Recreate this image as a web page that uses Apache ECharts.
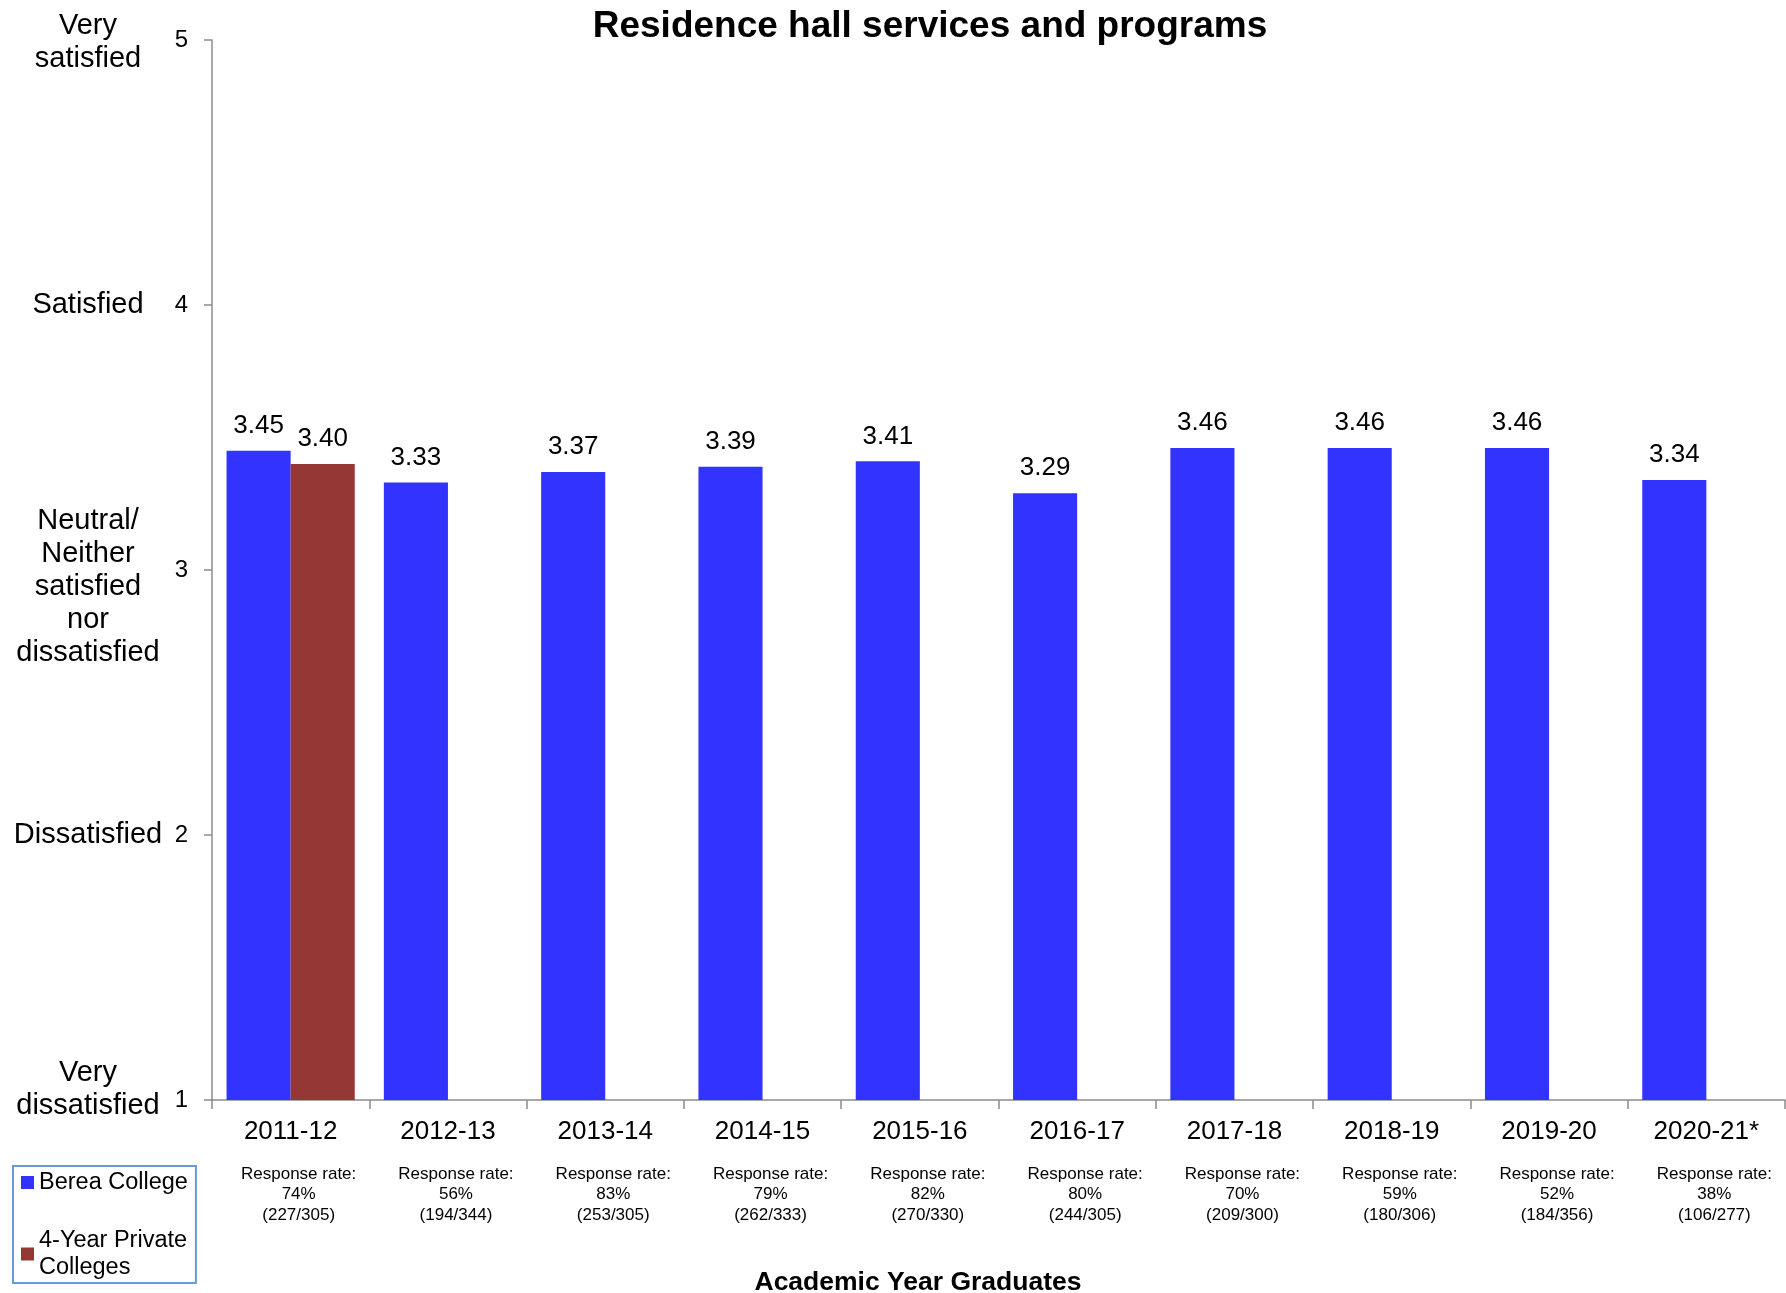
<!DOCTYPE html>
<html>
<head>
<meta charset="utf-8">
<script src="https://cdn.jsdelivr.net/npm/echarts@6/dist/echarts.min.js"></script>
<style>
html,body{margin:0;padding:0;background:#fff;}
#chart{width:1786px;height:1293px;}
</style>
</head>
<body>
<div id="chart"></div>
<script>
const categories = ['2011-12','2012-13','2013-14','2014-15','2015-16','2016-17','2017-18','2018-19','2019-20','2020-21*'];
const bereaValues = [3.45,3.33,3.37,3.39,3.41,3.29,3.46,3.46,3.46,3.34];
const privateValues = [3.40,null,null,null,null,null,null,null,null,null];
const responseRates = ['74%','56%','83%','79%','82%','80%','70%','59%','52%','38%'];
const responseCounts = ['(227/305)','(194/344)','(253/305)','(262/333)','(270/330)','(244/305)','(209/300)','(180/306)','(184/356)','(106/277)'];
const scaleTicks = [1,2,3,4,5];
const scaleLabels = ['Very\ndissatisfied','Dissatisfied','Neutral/\nNeither\nsatisfied\nnor\ndissatisfied','Satisfied','Very\nsatisfied'];
const seriesNames = ['Berea College','4-Year Private Colleges'];

const FONT = "'Liberation Sans', Arial, sans-serif";
const AXIS_GRAY = '#8c8c8c';

const chart = echarts.init(document.getElementById('chart'));
chart.setOption({
  animation: false,
  backgroundColor: '#ffffff',
  textStyle: {fontFamily: FONT, color: '#000'},
  title: [
    {text: 'Residence hall services and programs', left: 930, top: 8, padding: 0, textAlign: 'center',
     textStyle: {fontFamily: FONT, fontSize: 37, fontWeight: 'bold', color: '#000'}},
    {text: 'Academic Year Graduates', left: 918, top: 1269, padding: 0, textAlign: 'center',
     textStyle: {fontFamily: FONT, fontSize: 26.5, fontWeight: 'bold', color: '#000'}}
  ],
  legend: {
    orient: 'vertical', left: 13, bottom: 10,
    data: seriesNames,
    itemWidth: 13, itemHeight: 13, itemGap: 31,
    padding: [3, 8, 2, 8],
    borderColor: '#6b9bd6', borderWidth: 2, borderRadius: 0,
    icon: 'rect',
    formatter: function (n) { return n === '4-Year Private Colleges' ? '4-Year Private\nColleges' : n; },
    textStyle: {fontFamily: FONT, fontSize: 23.5, lineHeight: 27, color: '#000'}
  },
  grid: {left: 212, right: 1, top: 40, bottom: 193, containLabel: false},
  xAxis: [
    {
      type: 'category', data: categories, position: 'bottom',
      axisLine: {show: true, lineStyle: {color: AXIS_GRAY, width: 1.5}},
      axisTick: {show: true, length: 9, lineStyle: {color: AXIS_GRAY, width: 1.5}},
      axisLabel: {fontFamily: FONT, fontSize: 26, color: '#000', margin: 19, interval: 0}
    },
    {
      type: 'category', data: categories, position: 'bottom', offset: 0,
      axisLine: {show: false}, axisTick: {show: false}, splitLine: {show: false},
      axisLabel: {
        fontFamily: FONT, fontSize: 17, lineHeight: 20.5, color: '#000', margin: 64, interval: 0,
        padding: [0, 0, 0, 16],
        formatter: function (v, i) { return 'Response rate:\n' + responseRates[i] + '\n' + responseCounts[i]; }
      }
    }
  ],
  yAxis: [
    {
      type: 'value', min: 1, max: 5, interval: 1, position: 'left',
      axisLine: {show: true, lineStyle: {color: AXIS_GRAY, width: 1.5}},
      axisTick: {show: true, length: 8, lineStyle: {color: AXIS_GRAY, width: 1.5}},
      splitLine: {show: false},
      axisLabel: {fontFamily: FONT, fontSize: 24, color: '#000', margin: 24}
    },
    {
      type: 'value', min: 1, max: 5, interval: 1, position: 'left', offset: 100,
      axisLine: {show: false}, axisTick: {show: false}, splitLine: {show: false},
      axisLabel: {
        fontFamily: FONT, fontSize: 29, lineHeight: 33, color: '#000', margin: 24, align: 'center',
        formatter: function (v) {
          const idx = scaleTicks.indexOf(v);
          if (idx < 0) return '';
          const t = scaleLabels[idx];
          if (v === 3) return '{sp33| }\n' + t;
          if (v === 1) return t + '\n{sp22| }';
          if (v === 5) return '{sp6| }\n' + t;
          return t;
        },
        rich: {
          sp33: {fontSize: 10, lineHeight: 33},
          sp22: {fontSize: 10, lineHeight: 22},
          sp6: {fontSize: 4, lineHeight: 5}
        }
      }
    }
  ],
  series: [
    {
      name: seriesNames[0], type: 'bar', data: bereaValues, xAxisIndex: 0, yAxisIndex: 0,
      barGap: '0%', barCategoryGap: '18.5%',
      itemStyle: {color: '#3333ff'},
      label: {show: true, position: 'top', distance: 12, fontFamily: FONT, fontSize: 26, color: '#000',
              formatter: function (p) { return p.value.toFixed(2); }}
    },
    {
      name: seriesNames[1], type: 'bar', data: privateValues, xAxisIndex: 0, yAxisIndex: 0,
      barGap: '0%', barCategoryGap: '18.5%',
      itemStyle: {color: '#953735'},
      label: {show: true, position: 'top', distance: 12, fontFamily: FONT, fontSize: 26, color: '#000',
              formatter: function (p) { return p.value == null ? '' : p.value.toFixed(2); }}
    }
  ]
});
</script>
</body>
</html>
